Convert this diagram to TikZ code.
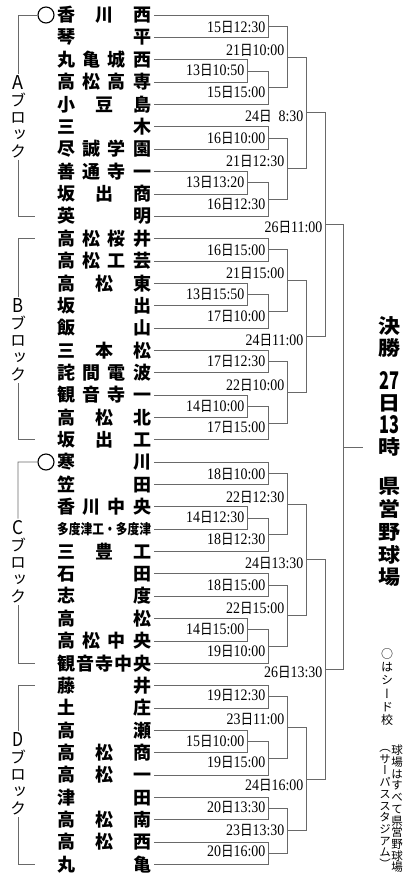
\documentclass[tikz,border=0pt]{standalone}
\usepackage{fontspec}
\usepackage{graphicx}
\usetikzlibrary{calc}
\newfontfamily\jp{Noto Sans CJK JP}
\newfontfamily\jpv{Noto Sans CJK JP}[RawFeature=+vert]
\newfontfamily\ser{Liberation Serif}
\definecolor{lncol}{RGB}{105,105,105}
\newcommand\dl[2]{{\ser#1}{\jp\fontsize{14.5}{15}\selectfont 日}{\ser#2}}
\newcommand\smallname{\resizebox{94pt}{\height}{\fontsize{14}{14}\selectfont 多度津工・多度津}}
\newcommand\blet[1]{\resizebox{11pt}{14pt}{\jp #1}}
\tikzset{
 conn/.style={draw=lncol, line width=0.6pt},
 team/.style={anchor=west, inner sep=0pt, font=\jp\bfseries\fontsize{18}{18}\selectfont},
 datelab/.style={anchor=east, inner sep=0pt, xscale=0.87, font=\ser\fontsize{16}{16}\selectfont},
 blocklab/.style={inner sep=2pt, align=center, font=\jpv\fontsize{16}{17}\selectfont},
 seed/.style={draw=black, line width=1.1pt, circle, minimum size=16pt, inner sep=0pt},
 fin/.style={inner sep=0pt, font=\jp\bfseries\fontsize{22}{22}\selectfont},
 note/.style={inner sep=0pt, align=center},
}
\newcommand\match[6]{%
 \path let \p1=(#3), \p2=(#4) in coordinate (#1) at (#2, {(\y1+\y2)/2});
 \draw[conn] (#3) -- (#3 -| #1) -- (#4 -| #1) -- (#4);
 \node[datelab] (#1l) at ([xshift=-2.5pt, yshift={-(#6)*1pt}]#1) {#5};
}
\begin{document}
\begin{tikzpicture}[x=1pt,y=-1pt]
\useasboundingbox (0,0) rectangle (410,879);
% teams
\foreach \nm [count=\i from 0] in {
 香\hfill 川\hfill 西, 琴\hfill 平, 丸\hfill 亀\hfill 城\hfill 西, 高\hfill 松\hfill 高\hfill 専,
 小\hfill 豆\hfill 島, 三\hfill 木, 尽\hfill 誠\hfill 学\hfill 園, 善\hfill 通\hfill 寺\hfill 一,
 坂\hfill 出\hfill 商, 英\hfill 明,
 高\hfill 松\hfill 桜\hfill 井, 高\hfill 松\hfill 工\hfill 芸, 高\hfill 松\hfill 東, 坂\hfill 出,
 飯\hfill 山, 三\hfill 本\hfill 松, 詫\hfill 間\hfill 電\hfill 波, 観\hfill 音\hfill 寺\hfill 一,
 高\hfill 松\hfill 北, 坂\hfill 出\hfill 工,
 寒\hfill 川, 笠\hfill 田, 香\hfill 川\hfill 中\hfill 央, \smallname,
 三\hfill 豊\hfill 工, 石\hfill 田, 志\hfill 度, 高\hfill 松, 高\hfill 松\hfill 中\hfill 央,
 観\hfill 音\hfill 寺\hfill 中\hfill 央,
 藤\hfill 井, 土\hfill 庄, 高\hfill 瀬, 高\hfill 松\hfill 商, 高\hfill 松\hfill 一,
 津\hfill 田, 高\hfill 松\hfill 南, 高\hfill 松\hfill 西, 丸\hfill 亀}
 {
 \node[team] (t\i) at (57,{15+22.35*\i}) {\hbox to 94pt{\nm}};
 \coordinate (e\i) at ([xshift=3pt]t\i.east);
 }
% seeds
\node[seed] (s0) at (46,15) {};
\node[seed] (s20) at (46,462) {};
% block labels
\node[blocklab] (bA) at (18,117) {\blet{A}\\ブ\\ロ\\ッ\\ク};
\node[blocklab] (bB) at (18,340) {\blet{B}\\ブ\\ロ\\ッ\\ク};
\node[blocklab] (bC) at (18,562) {\blet{C}\\ブ\\ロ\\ッ\\ク};
\node[blocklab] (bD) at (18,774) {\blet{D}\\ブ\\ロ\\ッ\\ク};
\draw[conn] (bA.north) -- (bA.north |- e0) -- (s0.west);
\draw[conn] (bA.south) -- (bA.south |- e9) -- ++(17,0);
\draw[conn] (bB.north) -- (bB.north |- e10) -- ++(17,0);
\draw[conn] (bB.south) -- (bB.south |- e19) -- ++(17,0);
\draw[conn] (bC.north) -- (bC.north |- e20) -- (s20.west);
\draw[conn] (bC.south) -- (bC.south |- e29) -- ++(17,0);
\draw[conn] (bD.north) -- (bD.north |- e30) -- ++(17,0);
\draw[conn] (bD.south) -- (bD.south |- e38) -- ++(17,0);
% A block
\match{a1}{268}{e0}{e1}{\dl{15}{12:30}}{1}
\match{a2}{247}{e2}{e3}{\dl{13}{10:50}}{0}
\match{a3}{268}{a2}{e4}{\dl{15}{15:00}}{5}
\match{a4}{287}{a1}{a3}{\dl{21}{10:00}}{-7}
\match{a5}{268}{e5}{e6}{\dl{16}{10:00}}{0}
\match{a6}{247}{e7}{e8}{\dl{13}{13:20}}{0}
\match{a7}{268}{a6}{e9}{\dl{16}{12:30}}{5}
\match{a8}{287}{a5}{a7}{\dl{21}{12:30}}{-7}
\match{a9}{306}{a4}{a8}{\dl{24}{\phantom{1}8:30}}{4}
% B block
\match{b1}{268}{e10}{e11}{\dl{16}{15:00}}{1}
\match{b2}{247}{e12}{e13}{\dl{13}{15:50}}{0}
\match{b3}{268}{b2}{e14}{\dl{17}{10:00}}{5}
\match{b4}{287}{b1}{b3}{\dl{21}{15:00}}{-7}
\match{b5}{268}{e15}{e16}{\dl{17}{12:30}}{0}
\match{b6}{247}{e17}{e18}{\dl{14}{10:00}}{0}
\match{b7}{268}{b6}{e19}{\dl{17}{15:00}}{5}
\match{b8}{287}{b5}{b7}{\dl{22}{10:00}}{-7}
\match{b9}{306}{b4}{b8}{\dl{24}{11:00}}{4}
% C block
\match{c1}{268}{e20}{e21}{\dl{18}{10:00}}{1}
\match{c2}{247}{e22}{e23}{\dl{14}{12:30}}{0}
\match{c3}{268}{c2}{e24}{\dl{18}{12:30}}{5}
\match{c4}{287}{c1}{c3}{\dl{22}{12:30}}{-7}
\match{c5}{268}{e25}{e26}{\dl{18}{15:00}}{0}
\match{c6}{247}{e27}{e28}{\dl{14}{15:00}}{0}
\match{c7}{268}{c6}{e29}{\dl{19}{10:00}}{5}
\match{c8}{287}{c5}{c7}{\dl{22}{15:00}}{-7}
\match{c9}{306}{c4}{c8}{\dl{24}{13:30}}{4}
% D block
\match{d1}{268}{e30}{e31}{\dl{19}{12:30}}{-1}
\match{d2}{247}{e32}{e33}{\dl{15}{10:00}}{0}
\match{d3}{268}{d2}{e34}{\dl{19}{15:00}}{4}
\match{d4}{287}{d1}{d3}{\dl{23}{11:00}}{-8}
\match{d5}{268}{e35}{e36}{\dl{20}{13:30}}{-1}
\match{d6}{268}{e37}{e38}{\dl{20}{16:00}}{-2}
\match{d7}{287}{d5}{d6}{\dl{23}{13:30}}{0}
\match{d8}{306}{d4}{d7}{\dl{24}{16:00}}{6}
% semifinals
\match{ab}{325}{a9}{b9}{\dl{26}{11:00}}{3}
\match{cd}{325}{c9}{d8}{\dl{26}{13:30}}{3}
% final
\path let \p1=(ab), \p2=(cd) in coordinate (fm) at (343, {(\y1+\y2)/2});
\draw[conn] (ab) -- (ab -| fm) -- (cd -| fm) -- (cd);
\coordinate (fe) at ([xshift=20pt]fm);
\draw[conn] (fm) -- (fe);
\foreach \ch/\yy [count=\k] in {決/326, 勝/348, 日/403, 時/447, 県/486, 営/509, 野/532, 球/555, 場/577}
 \node[fin, yscale=0.9] (f\k) at (389,\yy) {\ch};
\node[fin] (fd1) at (389,380) {\resizebox{20pt}{18pt}{27}};
\node[fin] (fd2) at (389,425) {\resizebox{20pt}{18pt}{13}};
% notes
\node[note, font=\jpv\fontsize{12}{13.3}\selectfont] (n1) at (387,687) {○\\は\\シ\\ー\\ド\\校};
\node[note, font=\jpv\fontsize{11.5}{11.7}\selectfont] (n2) at (397,809) {球\\場\\は\\す\\べ\\て\\県\\営\\野\\球\\場};
\node[note, font=\jpv\fontsize{11.5}{11.7}\selectfont] (n3) at (385,809) {（\\サ\\ー\\パ\\ス\\ス\\タ\\ジ\\ア\\ム\\）};
\end{tikzpicture}
\end{document}
